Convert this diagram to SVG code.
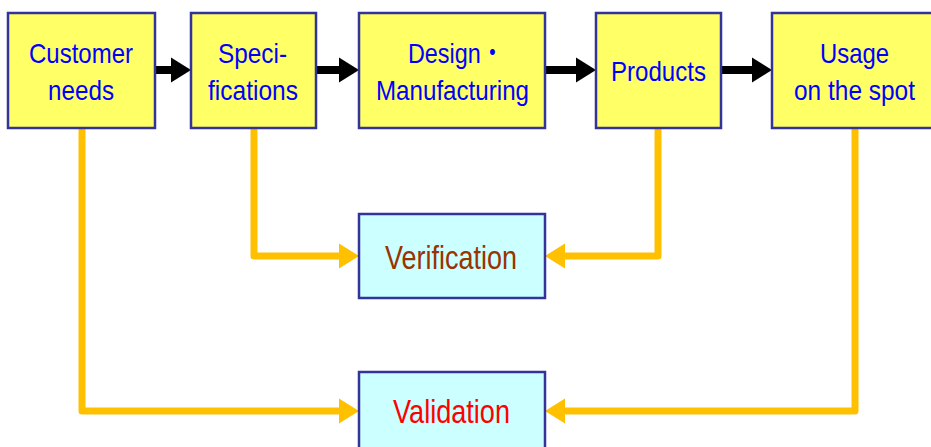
<svg xmlns="http://www.w3.org/2000/svg" width="931" height="447" viewBox="0 0 931 447">
<defs>
<style>
.step{fill:#FFFF66;stroke:#333399;stroke-width:2.5}
.check{fill:#CCFFFF;stroke:#333399;stroke-width:2.5}
text{font-family:"Liberation Sans","Noto Sans CJK JP",Arial,sans-serif;font-size:28px;text-anchor:middle}
.blue{fill:#0000FF}
.ver{fill:#993300;font-size:34px}
.val{fill:#FF0000;font-size:33px}
.blk{stroke:#000;stroke-width:8;fill:none}
.org{stroke:#FFC000;stroke-width:7;fill:none;stroke-linejoin:round;stroke-linecap:round}
.bh{fill:#000}
.oh{fill:#FFC000}
</style>
</defs>
<g id="connectors">
<line class="blk" x1="155" y1="70" x2="173" y2="70"/>
<polygon class="bh" points="171,57.5 191,70 171,82.5"/>
<line class="blk" x1="316" y1="70" x2="341" y2="70"/>
<polygon class="bh" points="339,57.5 359,70 339,82.5"/>
<line class="blk" x1="545" y1="70" x2="578" y2="70"/>
<polygon class="bh" points="576,57.5 596,70 576,82.5"/>
<line class="blk" x1="721" y1="70" x2="754" y2="70"/>
<polygon class="bh" points="752,57.5 772,70 752,82.5"/>
<polyline class="org" points="254,130 254,256 341,256"/>
<polygon class="oh" points="339,243.5 359,256 339,268.5"/>
<polyline class="org" points="658,130 658,256 563,256"/>
<polygon class="oh" points="565,243.5 545,256 565,268.5"/>
<polyline class="org" points="82,130 82,411 341,411"/>
<polygon class="oh" points="339,398.5 359,411 339,423.5"/>
<polyline class="org" points="855,130 855,411 563,411"/>
<polygon class="oh" points="565,398.5 545,411 565,423.5"/>
</g>
<g id="customer-needs">
<rect class="step" x="8" y="13" width="147" height="115"/>
<text class="blue" x="81" y="63" textLength="104" lengthAdjust="spacingAndGlyphs">Customer</text>
<text class="blue" x="81" y="100" textLength="66" lengthAdjust="spacingAndGlyphs">needs</text>
</g>
<g id="specifications">
<rect class="step" x="191" y="13" width="125" height="115"/>
<text class="blue" x="252.5" y="63" textLength="69" lengthAdjust="spacingAndGlyphs">Speci-</text>
<text class="blue" x="253" y="100" textLength="90" lengthAdjust="spacingAndGlyphs">fications</text>
</g>
<g id="design-manufacturing">
<rect class="step" x="359" y="13" width="186" height="115"/>
<text class="blue" x="408" y="63" style="text-anchor:start" textLength="96" lengthAdjust="spacingAndGlyphs">Design・</text>
<text class="blue" x="452.5" y="100" textLength="153" lengthAdjust="spacingAndGlyphs">Manufacturing</text>
</g>
<g id="products">
<rect class="step" x="596" y="13" width="125" height="115"/>
<text class="blue" x="658.5" y="81" textLength="95" lengthAdjust="spacingAndGlyphs">Products</text>
</g>
<g id="usage">
<rect class="step" x="772" y="13" width="166" height="115"/>
<text class="blue" x="854.5" y="63" textLength="69" lengthAdjust="spacingAndGlyphs">Usage</text>
<text class="blue" x="854.5" y="100" textLength="121" lengthAdjust="spacingAndGlyphs">on the spot</text>
</g>
<g id="verification">
<rect class="check" x="359" y="214" width="186" height="84"/>
<text class="ver" x="451" y="269" textLength="132" lengthAdjust="spacingAndGlyphs">Verification</text>
</g>
<g id="validation">
<rect class="check" x="359" y="372" width="186" height="84"/>
<text class="val" x="451.5" y="423" textLength="117" lengthAdjust="spacingAndGlyphs">Validation</text>
</g>
</svg>
